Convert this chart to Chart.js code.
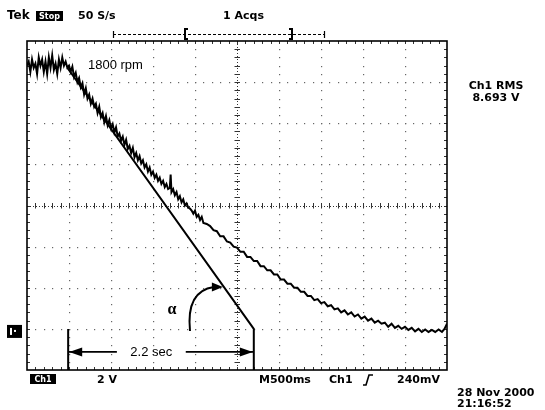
<!DOCTYPE html>
<html lang="en">
<head>
<meta charset="UTF-8">
<title>Tek - motor run-down, Ch1</title>
<script src="https://cdn.jsdelivr.net/npm/chart.js"></script>
<style>
    body { margin: 0; background: #fff; }
    #wrap { width: 545px; height: 410px; }
</style>
</head>
<body>
<div id="wrap"><canvas id="scope" width="545" height="410"></canvas></div>
<script>
// Ch1 record: seconds from the left edge of the screen, volts above the ground marker
const traceTime = [
    0.00, 0.02, 0.04, 0.06, 0.08, 0.10, 0.12, 0.14, 0.16, 0.18, 0.20, 0.22, 0.24, 0.26, 0.28,
    0.30, 0.32, 0.34, 0.36, 0.38, 0.40, 0.42, 0.44, 0.46, 0.48, 0.50, 0.52, 0.54, 0.56, 0.58,
    0.60, 0.62, 0.64, 0.66, 0.68, 0.70, 0.72, 0.74, 0.76, 0.78, 0.80, 0.82, 0.84, 0.86, 0.88,
    0.90, 0.92, 0.94, 0.96, 0.98, 1.00, 1.02, 1.04, 1.06, 1.08, 1.10, 1.12, 1.14, 1.16, 1.18,
    1.20, 1.22, 1.24, 1.26, 1.28, 1.30, 1.32, 1.34, 1.36, 1.38, 1.40, 1.42, 1.44, 1.46, 1.48,
    1.50, 1.52, 1.54, 1.56, 1.58, 1.60, 1.62, 1.64, 1.66, 1.68, 1.70, 1.71, 1.72, 1.74, 1.76,
    1.78, 1.80, 1.82, 1.84, 1.86, 1.88, 1.90, 1.92, 1.94, 1.96, 1.98, 2.00, 2.02, 2.04, 2.06,
    2.08, 2.10, 2.14, 2.18, 2.22, 2.26, 2.30, 2.34, 2.38, 2.42, 2.46, 2.50, 2.54, 2.58, 2.62,
    2.66, 2.70, 2.74, 2.78, 2.82, 2.86, 2.90, 2.94, 2.98, 3.02, 3.06, 3.10, 3.14, 3.18, 3.22,
    3.26, 3.30, 3.34, 3.38, 3.42, 3.46, 3.50, 3.54, 3.58, 3.62, 3.66, 3.70, 3.74, 3.78, 3.82,
    3.86, 3.90, 3.94, 3.98, 4.02, 4.06, 4.10, 4.14, 4.18, 4.22, 4.26, 4.30, 4.34, 4.38, 4.42,
    4.46, 4.50, 4.54, 4.58, 4.62, 4.66, 4.70, 4.74, 4.78, 4.82, 4.86, 4.90, 4.94, 4.97, 5.00
];
const traceVolts = [
    12.9, 13.1, 12.6, 13.2, 12.8, 13.0, 12.5, 13.3, 12.9, 13.2, 12.6, 13.1, 12.5, 13.3, 12.8,
    13.4, 12.7, 13.0, 12.5, 13.2, 12.8, 13.3, 12.9, 13.1, 12.8, 12.9, 12.6, 12.85, 12.35, 12.55,
    12.1, 12.3, 11.85, 12.05, 11.5, 11.8, 11.3, 11.5, 11.05, 11.3, 10.9, 11.05, 10.6, 10.9, 10.4,
    10.6, 10.15, 10.45, 10.0, 10.25, 9.85, 10.05, 9.65, 9.9, 9.45, 9.6, 9.25, 9.45, 9.05, 9.3,
    8.85, 9.0, 8.65, 8.9, 8.45, 8.65, 8.3, 8.5, 8.15, 8.3, 7.95, 8.1, 7.75, 7.95, 7.6,
    7.75, 7.45, 7.6, 7.3, 7.45, 7.15, 7.3, 7.0, 7.15, 6.9, 6.95, 7.6, 6.75, 6.9, 6.6,
    6.75, 6.4, 6.55, 6.25, 6.4, 6.1, 6.2, 6.0, 5.95, 5.85, 5.7, 5.85, 5.55, 5.65, 5.4,
    5.55, 5.25, 5.2, 5.1, 4.9, 4.85, 4.6, 4.6, 4.35, 4.3, 4.1, 4.05, 3.85, 3.85, 3.6,
    3.6, 3.4, 3.4, 3.15, 3.15, 2.95, 2.95, 2.75, 2.75, 2.5, 2.5, 2.3, 2.3, 2.1, 2.1,
    1.9, 1.9, 1.7, 1.7, 1.5, 1.55, 1.35, 1.4, 1.2, 1.25, 1.05, 1.1, 0.9, 1.0, 0.8,
    0.9, 0.7, 0.8, 0.6, 0.7, 0.5, 0.6, 0.4, 0.5, 0.35, 0.4, 0.2, 0.35, 0.15, 0.25,
    0.1, 0.2, 0.05, 0.15, -0.02, 0.1, -0.05, 0.07, -0.05, 0.05, -0.05, 0.07, -0.05, 0.1, 0.35
];

// tangent drawn over the start of the run-down, dropping to the bottom edge
const tangentTime = [0.48, 2.70, 2.70];
const tangentVolts = [12.8, 0.1, -1.9];

// left end marker of the measured span
const markerTime = [0.49, 0.49];
const markerVolts = [0.1, -1.9];

// span arrow: two halves around the label
const spanLevel = -1.02;
const spanLeft = [0.49, 1.07];
const spanRight = [1.89, 2.70];
const spanText = '2.2 sec';

// screen: 10 div x 500 ms, 8 div x 2 V, ground sits 0.95 div above the bottom
const timeRange = [0, 5];
const voltRange = [-1.9, 14.1];

const headerRate = '50 S/s';
const headerAcqs = '1 Acqs';
const speedText = '1800 rpm';
const measText = ['Ch1 RMS', '8.693 V'];
const footer = { scale: '2 V', timebase: 'M500ms', src: 'Ch1', level: '240mV' };
const dateText = ['28 Nov 2000', '21:16:52'];

const pts = (xs, ys) => xs.map((x, i) => ({ x: x, y: ys[i] }));

function lineSet(data, width) {
    return {
        data: data,
        borderColor: '#000',
        borderWidth: width,
        pointRadius: 0,
        tension: 0,
        fill: false
    };
}

const BOLD = 'bold 11px "DejaVu Sans"';

function boxText(ctx, x, y, w, h, text) {
    ctx.fillStyle = '#000';
    ctx.fillRect(x, y, w, h);
    ctx.fillStyle = '#fff';
    ctx.font = 'bold 8px "DejaVu Sans"';
    ctx.textAlign = 'center';
    ctx.textBaseline = 'middle';
    ctx.fillText(text, x + w / 2, y + h / 2 + 0.5);
}

function arrowHead(ctx, tipX, tipY, dir, len, half) {
    ctx.beginPath();
    ctx.moveTo(tipX, tipY);
    ctx.lineTo(tipX - dir * len, tipY - half);
    ctx.lineTo(tipX - dir * len, tipY + half);
    ctx.closePath();
    ctx.fill();
}

// graticule: dotted divisions, ticked centre axes, ticked frame
const graticule = {
    id: 'graticule',
    beforeDatasetsDraw(chart) {
        const { ctx, chartArea: a } = chart;
        const dx = (a.right - a.left) / 10;
        const dy = (a.bottom - a.top) / 8;
        const cx = a.left + 5 * dx;
        const cy = a.top + 4 * dy;
        ctx.save();
        ctx.fillStyle = '#666';
        for (let i = 1; i < 10; i++) {
            if (i === 5) continue;
            const x = Math.round(a.left + i * dx);
            for (let k = 1; k < 40; k++) ctx.fillRect(x, Math.round(a.top + k * dy / 5), 1.2, 1.2);
        }
        for (let j = 1; j < 8; j++) {
            if (j === 4) continue;
            const y = Math.round(a.top + j * dy);
            for (let k = 1; k < 50; k++) ctx.fillRect(Math.round(a.left + k * dx / 5), y, 1.2, 1.2);
        }
        // centre axes
        ctx.strokeStyle = '#333';
        ctx.lineWidth = 1;
        ctx.setLineDash([1, 2]);
        ctx.beginPath();
        ctx.moveTo(a.left, Math.round(cy) + 0.5);
        ctx.lineTo(a.right, Math.round(cy) + 0.5);
        ctx.moveTo(Math.round(cx) + 0.5, a.top);
        ctx.lineTo(Math.round(cx) + 0.5, a.bottom);
        ctx.stroke();
        ctx.setLineDash([]);
        ctx.beginPath();
        for (let k = 1; k < 50; k++) {
            const x = Math.round(a.left + k * dx / 5) + 0.5;
            ctx.moveTo(x, cy - 2.5); ctx.lineTo(x, cy + 3);
            ctx.moveTo(x, a.top); ctx.lineTo(x, a.top + 3);
            ctx.moveTo(x, a.bottom); ctx.lineTo(x, a.bottom - 3);
        }
        for (let k = 1; k < 40; k++) {
            const y = Math.round(a.top + k * dy / 5) + 0.5;
            ctx.moveTo(cx - 2.5, y); ctx.lineTo(cx + 3, y);
            ctx.moveTo(a.left, y); ctx.lineTo(a.left + 3, y);
            ctx.moveTo(a.right, y); ctx.lineTo(a.right - 3, y);
        }
        ctx.stroke();
        // frame
        ctx.strokeStyle = '#000';
        ctx.lineWidth = 1.6;
        ctx.strokeRect(a.left, a.top, a.right - a.left, a.bottom - a.top);
        ctx.restore();
    },
    afterDatasetsDraw(chart) {
        const { ctx, chartArea: a, scales: { x: xs, y: ys } } = chart;
        ctx.save();
        ctx.fillStyle = '#000';
        ctx.strokeStyle = '#000';

        // span arrowheads and label
        const sy = ys.getPixelForValue(spanLevel);
        arrowHead(ctx, xs.getPixelForValue(spanLeft[0]) + 1, sy, -1, 13, 4.5);
        arrowHead(ctx, xs.getPixelForValue(spanRight[1]) - 1, sy, 1, 13, 4.5);
        ctx.font = '13px "Liberation Sans"';
        ctx.textAlign = 'center';
        ctx.textBaseline = 'middle';
        ctx.fillText(spanText, (xs.getPixelForValue(spanLeft[1]) + xs.getPixelForValue(spanRight[0])) / 2, sy + 1);

        // speed label over the flat part
        ctx.textAlign = 'left';
        ctx.fillText(speedText, 88, ys.getPixelForValue(12.9));

        // alpha and its curved pointer to the tangent
        ctx.font = 'bold 16px "Liberation Serif"';
        ctx.textAlign = 'center';
        ctx.fillText('\u03b1', 172, 310);
        const ty = 287;
        const tx = xs.getPixelForValue(tangentTime[0]) + (ty - ys.getPixelForValue(tangentVolts[0])) /
            ((ys.getPixelForValue(tangentVolts[1]) - ys.getPixelForValue(tangentVolts[0])) /
             (xs.getPixelForValue(tangentTime[1]) - xs.getPixelForValue(tangentTime[0])));
        ctx.lineWidth = 2;
        ctx.beginPath();
        ctx.moveTo(190, 331);
        ctx.quadraticCurveTo(186, 291, tx - 10, ty);
        ctx.stroke();
        arrowHead(ctx, tx - 1, ty, 1, 11, 4.5);

        // ground marker for Ch1
        const gy = ys.getPixelForValue(0);
        ctx.fillRect(7, gy - 6, 15, 13);
        ctx.fillStyle = '#fff';
        ctx.fillRect(10, gy - 3, 2, 7);
        ctx.fillRect(14, gy - 1, 2, 2);
        ctx.restore();
    },
    afterDraw(chart) {
        const { ctx, chartArea: a } = chart;
        ctx.save();
        ctx.fillStyle = '#000';
        ctx.textBaseline = 'middle';
        ctx.textAlign = 'left';

        // header line
        ctx.font = 'bold 12px "DejaVu Sans"';
        ctx.fillText('Tek', 7, 16);
        boxText(ctx, 36, 11, 27, 10, 'Stop');
        ctx.fillStyle = '#000';
        ctx.font = BOLD;
        ctx.textAlign = 'left';
        ctx.textBaseline = 'middle';
        ctx.fillText(headerRate, 78, 16);
        ctx.fillText(headerAcqs, 223, 16);

        // record position bar
        ctx.strokeStyle = '#000';
        ctx.lineWidth = 1;
        ctx.setLineDash([3, 2]);
        ctx.beginPath();
        ctx.moveTo(113, 34.5); ctx.lineTo(325, 34.5);
        ctx.stroke();
        ctx.setLineDash([]);
        ctx.lineWidth = 1.2;
        ctx.beginPath();
        ctx.moveTo(113.5, 31); ctx.lineTo(113.5, 38);
        ctx.moveTo(324.5, 31); ctx.lineTo(324.5, 38);
        ctx.stroke();
        ctx.lineWidth = 2;
        ctx.beginPath();
        ctx.moveTo(188, 29); ctx.lineTo(185, 29); ctx.lineTo(185, 39); ctx.lineTo(188, 39);
        ctx.moveTo(289, 29); ctx.lineTo(292, 29); ctx.lineTo(292, 39); ctx.lineTo(289, 39);
        ctx.stroke();

        // measurement readout
        ctx.textAlign = 'center';
        ctx.fillText(measText[0], 496, 86);
        ctx.fillText(measText[1], 496, 98);

        // footer
        boxText(ctx, 30, 374, 26, 10, 'Ch1');
        ctx.fillStyle = '#000';
        ctx.font = BOLD;
        ctx.textAlign = 'left';
        ctx.textBaseline = 'middle';
        const fy = 380;
        ctx.fillText(footer.scale, 97, fy);
        ctx.fillText(footer.timebase, 259, fy);
        ctx.fillText(footer.src, 329, fy);
        ctx.fillText(footer.level, 397, fy);
        // rising-edge trigger glyph
        ctx.lineWidth = 1.6;
        ctx.beginPath();
        ctx.moveTo(363, 385); ctx.lineTo(366, 385); ctx.lineTo(369, 375); ctx.lineTo(373, 375);
        ctx.stroke();

        ctx.textAlign = 'left';
        ctx.fillText(dateText[0], 457, 393);
        ctx.fillText(dateText[1], 457, 404);
        ctx.restore();
    }
};

new Chart(document.getElementById('scope'), {
    type: 'line',
    data: {
        datasets: [
            lineSet(pts(traceTime, traceVolts), 2),
            lineSet(pts(tangentTime, tangentVolts), 2),
            lineSet(pts(markerTime, markerVolts), 2),
            lineSet(pts(spanLeft, [spanLevel, spanLevel]), 1.6),
            lineSet(pts(spanRight, [spanLevel, spanLevel]), 1.6)
        ]
    },
    options: {
        responsive: false,
        animation: false,
        layout: { padding: { left: 27, top: 41, right: 98, bottom: 40 } },
        scales: {
            x: { type: 'linear', min: timeRange[0], max: timeRange[1], display: false },
            y: { type: 'linear', min: voltRange[0], max: voltRange[1], display: false }
        },
        plugins: {
            legend: { display: false },
            tooltip: { enabled: false }
        }
    },
    plugins: [graticule]
});
</script>
</body>
</html>
